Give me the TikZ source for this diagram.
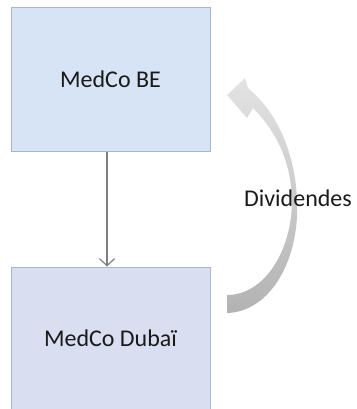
\documentclass[tikz,border=0pt]{standalone}
\usepackage{fontspec}
\setmainfont{Carlito}
\usetikzlibrary{arrows.meta}
\definecolor{topfill}{HTML}{D6E4F6}
\definecolor{botfill}{HTML}{D9DFF0}
\definecolor{boxline}{HTML}{A9B6C9}
\definecolor{arrgray}{HTML}{808080}
\definecolor{txt}{HTML}{1A1A1A}
\tikzset{
  entity/.style={draw=boxline, line width=1pt, rectangle, minimum width=199pt, inner sep=0pt, font=\fontsize{24}{28}\selectfont, text=txt},
  link/.style={draw=arrgray, line width=1.2pt, -{Straight Barb[length=7pt,width=15pt,line width=1.2pt]}},
  lbl/.style={font=\fontsize{24}{28}\selectfont, text=txt, inner sep=0pt}
}
\begin{document}
\begin{tikzpicture}[x=1pt,y=-1pt]
\useasboundingbox (0,0) rectangle (356,409);
\node[entity, fill=topfill, minimum height=143pt] (be) at (110.5,79.5) {MedCo BE};
\node[entity, fill=botfill, minimum height=143pt] (dubai) at (110.5,338.5) {MedCo Dubaï};
\draw[link] (be.south -| 107,0) -- (dubai.north -| 107,0);
% curved dividend arrow
\shade[top color=gray!22, bottom color=gray!60]
  (227,313) .. controls (270,312) and (300,260) .. (297,200)
  .. controls (295,150) and (275,110) .. (248,88)
  -- (245,78) -- (227,95) -- (247,118) -- (253,108)
  .. controls (275,130) and (291,160) .. (292,200)
  .. controls (292,250) and (265,295) .. (227,295) -- cycle;
\node[lbl] (div) at (298,198) {Dividendes};
\end{tikzpicture}
\end{document}
